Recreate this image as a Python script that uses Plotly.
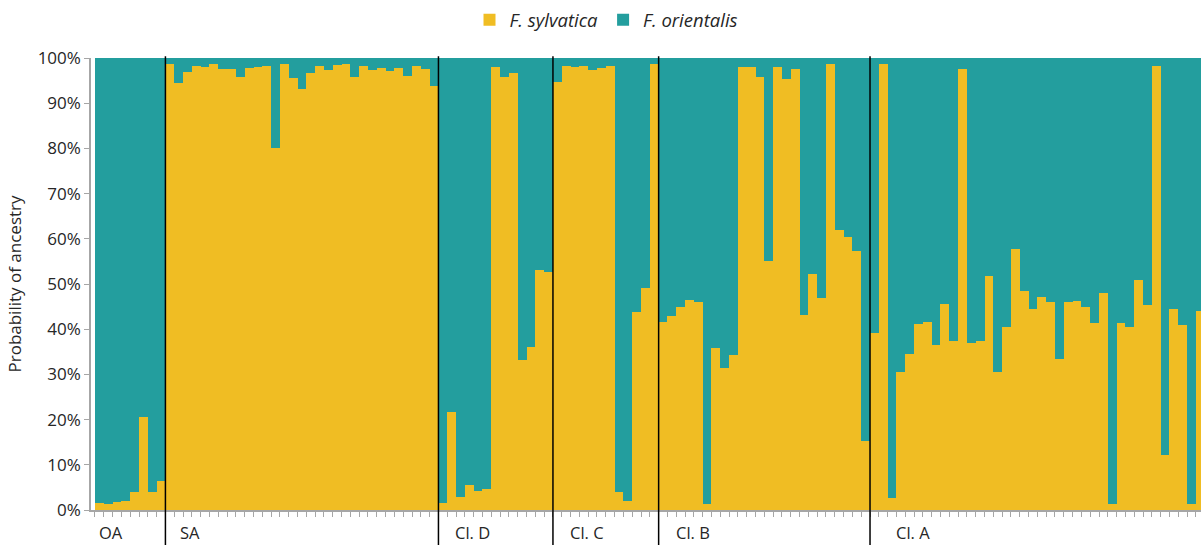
import plotly.graph_objects as go

# ---- data (percent F. sylvatica ancestry per individual) ----
groups = ["OA", "SA", "Cl. D", "Cl. C", "Cl. B", "Cl. A"]

oa = [1.5, 1.4, 1.8, 2.0, 3.9, 20.6, 4.0, 6.5]
sa = [98.7, 94.4, 97.0, 98.3, 98.1, 98.7, 97.6, 97.6, 95.7, 97.8, 98.1, 98.3,
      80.0, 98.7, 95.5, 93.1, 96.6, 98.3, 97.3, 98.5, 98.7, 95.7, 98.3, 97.3,
      97.8, 97.1, 97.8, 96.1, 98.3, 97.6, 93.9]
cl_d = [1.5, 21.7, 2.8, 5.6, 4.3, 4.7, 97.9, 95.9, 96.6, 33.1, 36.1, 53.2, 52.7]
cl_c = [94.8, 98.3, 98.1, 98.3, 97.4, 97.8, 98.3, 3.9, 1.9, 43.8, 49.1, 98.7]
cl_b = [41.6, 42.9, 45.0, 46.4, 46.0, 1.4, 35.9, 31.5, 34.2, 98.1, 98.1, 95.7,
        55.2, 98.1, 95.3, 97.6, 43.1, 52.3, 46.8, 98.7, 62.0, 60.4, 57.3, 15.2]
cl_a = [39.2, 98.7, 2.6, 30.5, 34.5, 41.1, 41.6, 36.6, 45.5, 37.3, 97.6, 36.9,
        37.5, 51.7, 30.5, 40.5, 57.7, 48.5, 44.5, 47.1, 46.0, 33.4, 46.0, 46.2,
        44.9, 41.3, 48.0, 1.4, 41.3, 40.5, 50.9, 45.3, 98.3, 12.2, 44.4, 41.0,
        1.3, 44.1]

group_values = [oa, sa, cl_d, cl_c, cl_b, cl_a]
label_offsets = [0.19, 1.45, 1.68, 1.74, 1.78, 2.73]  # label position inside group (bar units)

y_ticks = list(range(0, 101, 10))
y_tick_labels = [f"{v}%" for v in y_ticks]

# ---- derived ----
sylvatica = [v for g in group_values for v in g]
orientalis = [round(100 - v, 2) for v in sylvatica]
x = list(range(len(sylvatica)))

starts = []
s = 0
for g in group_values:
    starts.append(s)
    s += len(g)

YELLOW = "#F0BD23"
TEAL = "#239E9E"
TEXT = "#262626"
AXIS = "#A6A6A6"
FONT = "Open Sans"

fig = go.Figure()
fig.add_bar(x=x, y=sylvatica, name="<i>F. sylvatica</i>",
            marker=dict(color=YELLOW, line=dict(width=0)))
fig.add_bar(x=x, y=orientalis, name="<i>F. orientalis</i>",
            marker=dict(color=TEAL, line=dict(width=0)))

shapes = []
for st in starts[1:]:
    shapes.append(dict(type="line", xref="x", yref="paper",
                       x0=st - 0.5, x1=st - 0.5, y0=-0.09, y1=1.004,
                       line=dict(color="black", width=1.5)))

annotations = []
for name, st, off in zip(groups, starts, label_offsets):
    annotations.append(dict(x=st - 0.5 + off, y=-0.049, xref="x", yref="paper",
                            text=name, showarrow=False, xanchor="left",
                            yanchor="middle", font=dict(size=16.5, color=TEXT, family=FONT)))

fig.update_layout(
    width=1201, height=545,
    margin=dict(l=91, r=0, t=58, b=35),
    barmode="stack", bargap=0,
    plot_bgcolor="white", paper_bgcolor="white",
    font=dict(family=FONT, size=16, color=TEXT),
    showlegend=True,
    legend=dict(orientation="h", xref="container", yref="container",
                traceorder="normal",
                x=0.505, y=0.963, xanchor="center", yanchor="middle",
                font=dict(size=18.5, color=TEXT, family=FONT),
                itemclick=False, itemdoubleclick=False),
    shapes=shapes,
    annotations=annotations,
    xaxis=dict(range=[-0.95, len(sylvatica) - 0.92], showgrid=False, zeroline=False,
               showline=True, linecolor=AXIS, linewidth=1.5,
               ticks="outside", tickmode="linear", tick0=-0.5, dtick=1,
               ticklen=5, tickcolor=AXIS, tickwidth=1, showticklabels=False),
    yaxis=dict(range=[0, 100], showgrid=False, zeroline=False,
               showline=True, linecolor=AXIS, linewidth=1.5,
               ticks="outside", ticklen=5, tickcolor=AXIS,
               tickvals=y_ticks, ticktext=y_tick_labels,
               tickfont=dict(size=17, color=TEXT, family=FONT),
               title=dict(text="Probability of ancestry", standoff=12,
                          font=dict(size=17, color=TEXT, family=FONT))),
)

fig.write_html("out.html")
